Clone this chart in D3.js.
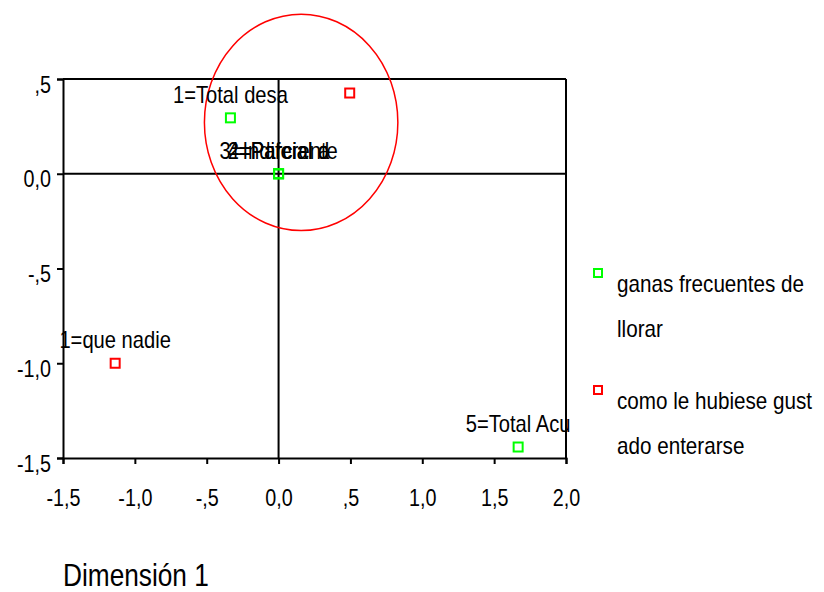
<!DOCTYPE html>
<html><head><meta charset="utf-8">
<script src="https://cdn.jsdelivr.net/npm/d3@7"></script>
<style>body{margin:0;background:#fff}text{font-family:"Liberation Sans Narrow","Arial Narrow","Liberation Sans",sans-serif;fill:#000}</style>
</head><body><svg id="c" width="824" height="592"></svg>
<script>
const xTicks = [-1.5,-1.0,-0.5,0.0,0.5,1.0,1.5,2.0];
const xTickLabels = ["-1,5","-1,0","-,5","0,0",",5","1,0","1,5","2,0"];
const yTicks = [0.5,0.0,-0.5,-1.0,-1.5];
const yTickLabels = [",5","0,0","-,5","-1,0","-1,5"];
const series = ["ganas frecuentes de llorar","como le hubiese gustado enterarse"];
const seriesColors = ["#00ff00","#ff0000"];
const legendLines = [["ganas frecuentes de","llorar"],["como le hubiese gust","ado enterarse"]];
// ganas frecuentes de llorar
const s1x = [-0.335, 0.0, 0.0, 0.0, 1.667];
const s1y = [0.295, 0.0, 0.0, 0.0, -1.442];
const s1labels = ["1=Total desa","2=Parcial d","3=Indiferente","4=Parcial a","5=Total  Acu"];
// como le hubiese gustado enterarse
const s2x = [-1.137, 0.495];
const s2y = [-1.0, 0.426];
const s2labels = ["1=que nadie",""];
const ellipse = {cx:0.157, cy:0.271, rx:0.673, ry:0.571};
const xTitle = "Dimensión 1";

const svg = d3.select("#c");
const x = d3.scaleLinear().domain([-1.5,2.0]).range([63,566]);
const y = d3.scaleLinear().domain([-1.5,0.5]).range([458,79]);

function condense(sel, k){
  sel.each(function(){
    const len = this.getComputedTextLength();
    if(len>0){ d3.select(this).attr("textLength",len*k).attr("lengthAdjust","spacingAndGlyphs"); }
  });
}
const K = 0.84;

// frame
svg.append("line").attr("x1",x(-1.5)).attr("x2",x(2.0)).attr("y1",y(0.5)).attr("y2",y(0.5)).attr("stroke","#000").attr("stroke-width",2);
svg.append("line").attr("x1",x(2.0)).attr("x2",x(2.0)).attr("y1",y(0.5)).attr("y2",y(-1.5)).attr("stroke","#000").attr("stroke-width",2);
// zero lines
svg.append("line").attr("x1",x(-1.5)).attr("x2",x(2.0)).attr("y1",y(0)).attr("y2",y(0)).attr("stroke","#000").attr("stroke-width",2);
svg.append("line").attr("x1",x(0)).attr("x2",x(0)).attr("y1",y(0.5)).attr("y2",y(-1.5)).attr("stroke","#000").attr("stroke-width",2);

const xAxis = svg.append("g").attr("transform",`translate(0,${y(-1.5)})`)
  .call(d3.axisBottom(x).tickValues(xTicks).tickFormat((d,i)=>xTickLabels[i]).tickSizeOuter(0).tickSize(6));
const yAxis = svg.append("g").attr("transform",`translate(${x(-1.5)},0)`)
  .call(d3.axisLeft(y).tickValues(yTicks).tickFormat((d,i)=>yTickLabels[i]).tickSizeOuter(0).tickSize(6));
[xAxis,yAxis].forEach(g=>{
  g.attr("font-family",null).attr("font-size",null);
  g.select(".domain").attr("stroke-width",2);
  g.selectAll(".tick line").attr("stroke-width",2);
  g.selectAll("text").attr("font-size",23.5).attr("fill","#000");
});
xAxis.selectAll("text").attr("y",48).attr("dy",0);
yAxis.selectAll("text").attr("x",-12).attr("dy",0).attr("y",13);
condense(xAxis.selectAll("text"),K);
condense(yAxis.selectAll("text"),K);

// ellipse
svg.append("ellipse").attr("cx",x(ellipse.cx)).attr("cy",y(ellipse.cy))
  .attr("rx",x(ellipse.rx)-x(0)).attr("ry",y(0)-y(ellipse.ry))
  .attr("fill","none").attr("stroke","#ff0000").attr("stroke-width",1.5);

function drawSeries(xs,ys,labels,color){
  const g = svg.append("g");
  xs.forEach((xv,i)=>{
    const px = x(xv), py = y(ys[i]);
    g.append("rect").attr("x",px-4.5).attr("y",py-4.5).attr("width",9).attr("height",9)
      .attr("fill","none").attr("stroke",color).attr("stroke-width",2);
    if(labels[i]){
      const t = g.append("text").attr("x",px).attr("y",py-15).attr("text-anchor","middle")
        .attr("font-size",24).text(labels[i]);
      condense(t,K);
    }
  });
}
drawSeries(s1x,s1y,s1labels,seriesColors[0]);
drawSeries(s2x,s2y,s2labels,seriesColors[1]);

// legend
const legY = [273,390];
legendLines.forEach((lines,i)=>{
  svg.append("rect").attr("x",594).attr("y",legY[i]-4).attr("width",8).attr("height",8)
    .attr("fill","none").attr("stroke",seriesColors[i]).attr("stroke-width",2);
  lines.forEach((t,j)=>{
    const tx = svg.append("text").attr("x",617).attr("y",legY[i]+19+j*45).attr("font-size",24).text(t);
    condense(tx,0.86);
  });
});

const tt = svg.append("text").attr("x",63).attr("y",586).attr("font-size",32).text(xTitle);
condense(tt,0.82);
</script></body></html>
